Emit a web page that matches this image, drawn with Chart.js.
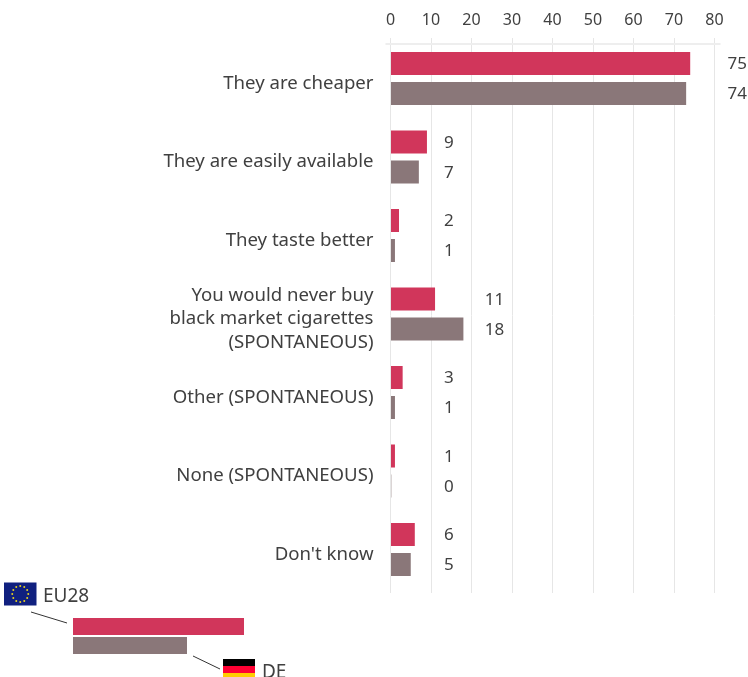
<!DOCTYPE html>
<html>
<head>
<meta charset="utf-8">
<title>Chart</title>
<script src="https://cdn.jsdelivr.net/npm/chart.js@4/dist/chart.umd.min.js"></script>
<style>
  html, body { margin: 0; padding: 0; background: #fff; overflow: hidden; }
  #wrap { position: relative; width: 748px; height: 677px; overflow: hidden; font-family: "Noto Sans", sans-serif; color: #404040; }
  #chart { position: absolute; left: 0; top: 0; }
  .key { position: absolute; font-size: 19px; line-height: 22px; }
  #key { position: absolute; left: 0; top: 0; }
</style>
</head>
<body>
<div id="wrap">
  <canvas id="chart" width="748" height="677"></canvas>
  <svg id="key" width="748" height="677">
    <rect x="4" y="582.5" width="32.5" height="23" fill="#10207f"/>
    <g id="stars" fill="#e8d21d"></g>
    <line x1="31" y1="612" x2="67" y2="623" stroke="#333"/>
    <rect x="73" y="618" width="171" height="17" fill="#d1365b"/>
    <rect x="73" y="637" width="114" height="17" fill="#8a7779"/>
    <line x1="193" y1="656" x2="220" y2="669" stroke="#333"/>
    <rect x="223" y="659" width="32" height="7" fill="#000"/>
    <rect x="223" y="666" width="32" height="7" fill="#ff0033"/>
    <rect x="223" y="673" width="32" height="4" fill="#ffcc00"/>
  </svg>
  <div class="key" style="left:43px;top:584px">EU28</div>
  <div class="key" style="left:262px;top:660px">DE</div>
</div>
<script>
const categories = [
  ['They are cheaper'],
  ['They are easily available'],
  ['They taste better'],
  ['You would never buy', 'black market cigarettes', '(SPONTANEOUS)'],
  ['Other (SPONTANEOUS)'],
  ['None (SPONTANEOUS)'],
  ["Don't know"],
]
// bar lengths as drawn in the picture, the printed labels differ slightly on the first row
const eu28Bars = [74, 9, 2.1, 11, 3, 1.1, 6]
const deBars = [73, 7, 1.1, 18, 1.1, 0.2, 5]
const eu28Labels = ['75', '9', '2', '11', '3', '1', '6']
const deLabels = ['74', '7', '1', '18', '1', '0', '5']
const xTicks = [0, 10, 20, 30, 40, 50, 60, 70, 80]

const RED = '#d1365b', GREY = '#8a7779', TEXT = '#404040'
const FONT = '"Noto Sans", sans-serif'

// flag stars
const stars = document.getElementById('stars')
for (let i = 0; i < 12; i++) {
  const a = i * Math.PI / 6
  const c = document.createElementNS('http://www.w3.org/2000/svg', 'circle')
  c.setAttribute('cx', 20.25 + 8 * Math.sin(a)); c.setAttribute('cy', 594 - 8 * Math.cos(a)); c.setAttribute('r', 1)
  stars.appendChild(c)
}

// value labels sit in a fixed column per row, depending on how long the row's longest bar is
const valueLabels = {
  id: 'valueLabels',
  afterDatasetsDraw(chart) {
    const { ctx, scales: { x } } = chart
    ctx.save()
    ctx.font = '17px ' + FONT
    ctx.fillStyle = TEXT
    ctx.textAlign = 'left'
    ctx.textBaseline = 'middle'
    ;[eu28Labels, deLabels].forEach((labels, d) => {
      chart.getDatasetMeta(d).data.forEach((bar, i) => {
        const longest = Math.max(eu28Bars[i], deBars[i])
        const col = longest < 10 ? 13.2 : longest < 20 ? 23.3 : 83.2
        ctx.fillText(labels[i], x.getPixelForValue(col), bar.y + 1)
      })
    })
    ctx.restore()
  },
}

// grey rule under the top axis
const topRule = {
  id: 'topRule',
  beforeDatasetsDraw(chart) {
    const { ctx, chartArea: a } = chart
    ctx.save()
    ctx.strokeStyle = '#eeeeee'
    ctx.lineWidth = 2
    ctx.beginPath()
    ctx.moveTo(a.left - 5, a.top + 6)
    ctx.lineTo(a.right + 6, a.top + 6)
    ctx.stroke()
    ctx.restore()
  },
}

new Chart(document.getElementById('chart'), {
  type: 'bar',
  data: {
    datasets: [
      { label: 'EU28', data: eu28Bars.map((v, i) => ({ x: v, y: i })), backgroundColor: RED },
      { label: 'DE', data: deBars.map((v, i) => ({ x: v, y: i })), backgroundColor: GREY },
    ],
  },
  options: {
    indexAxis: 'y',
    responsive: false,
    animation: false,
    categoryPercentage: 0.764,
    barPercentage: 0.767,
    layout: { padding: { top: 12, bottom: 84, left: 0, right: 33.5 } },
    plugins: { legend: { display: false }, tooltip: { enabled: false } },
    scales: {
      x: {
        position: 'top',
        min: 0,
        max: 80,
        afterBuildTicks: s => { s.ticks = xTicks.map(value => ({ value })) },
        afterFit: s => { s.height = 26 },
        grid: { color: '#e6e6e6', lineWidth: 1, drawTicks: false },
        border: { display: false },
        ticks: { color: TEXT, font: { family: FONT, size: 16 }, padding: 8, maxRotation: 0 },
      },
      y: {
        type: 'linear',
        reverse: true,
        offset: false,
        bounds: 'data',
        min: -0.516,
        max: 6.554,
        afterBuildTicks: s => { s.ticks = categories.map((c, value) => ({ value })) },
        afterFit: s => { s.width = 390.5 },
        grid: { display: false, drawTicks: false },
        border: { display: false },
        ticks: {
          color: TEXT,
          font: { family: FONT, size: 18.6, lineHeight: 1.27 },
          padding: 17,
          labelOffset: 5,
          callback: v => categories[v],
        },
      },
    },
  },
  plugins: [topRule, valueLabels],
})
</script>
</body>
</html>
